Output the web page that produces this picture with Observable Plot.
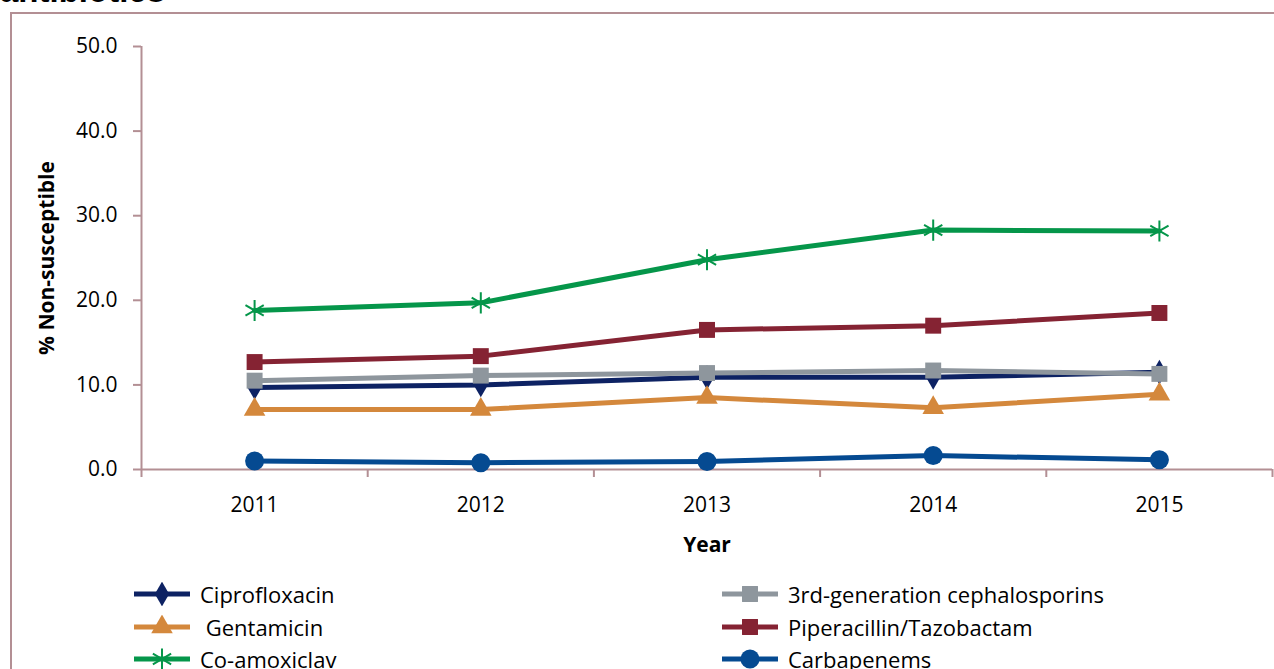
<!DOCTYPE html>
<html>
<head>
<meta charset="utf-8">
<script src="https://cdn.jsdelivr.net/npm/d3@7"></script>
<script src="https://cdn.jsdelivr.net/npm/@observablehq/plot@0.6"></script>
<style>
  html, body { margin: 0; padding: 0; background: #fff; overflow: hidden; }
  body { position: relative; width: 1274px; height: 669px; font-family: "Open Sans", sans-serif; }
  #title { position: absolute; left: 0; top: -26px; font: bold 33px/33px "Liberation Sans", Arial, sans-serif; white-space: nowrap; }
  #frame { position: absolute; left: 10px; top: 12px; width: 1300px; height: 700px; border: 2px solid #b38f94; box-sizing: border-box; }
  #chart { position: absolute; left: 0; top: 0; }
  .leg { position: absolute; height: 24px; display: flex; align-items: center; font-size: 22px; white-space: pre; color: #000; }
  .leg svg { display: block; margin-right: 8px; }
</style>
</head>
<body>
<div id="title">antibiotics</div>
<div id="frame"></div>
<div id="chart"></div>
<div id="legend"></div>
<script>
// ---- data ----
const years = [2011, 2012, 2013, 2014, 2015];
const seriesNames = ["Ciprofloxacin", "3rd-generation cephalosporins", "Gentamicin", "Piperacillin/Tazobactam", "Co-amoxiclav", "Carbapenems"];
const ciprofloxacin = [9.7, 10.0, 10.9, 10.9, 11.5];
const cephalosporins3rd = [10.5, 11.1, 11.4, 11.7, 11.3];
const gentamicin = [7.1, 7.1, 8.5, 7.3, 8.9];
const piperacillinTazobactam = [12.7, 13.4, 16.5, 17.0, 18.5];
const coAmoxiclav = [18.8, 19.7, 24.8, 28.3, 28.2];
const carbapenems = [1.0, 0.8, 0.95, 1.65, 1.15];
const yTicks = [0, 10, 20, 30, 40, 50];
const seriesColors = ["#0d2263", "#8e969d", "#d4883c", "#852333", "#05964a", "#054a91"];
const seriesSymbols = ["diamond", "square", "triangle", "square", "asterisk", "circle"];
const seriesRadius = [7.5, 9, 8, 9, 10, 9.5];
const legendLabels = ["Ciprofloxacin", "3rd-generation cephalosporins", " Gentamicin", "Piperacillin/Tazobactam", "Co-amoxiclav", "Carbapenems"];

const seriesValues = [ciprofloxacin, cephalosporins3rd, gentamicin, piperacillinTazobactam, coAmoxiclav, carbapenems];
const rows = [];
seriesNames.forEach((s, i) => years.forEach((yr, j) => rows.push({series: s, year: yr, value: seriesValues[i][j]})));

const axisColor = "#b38f94";
const boundaries = [years[0] - 0.5, ...years.map(y => y + 0.5)];

const marks = [
  Plot.ruleY([0], {stroke: axisColor, strokeWidth: 2}),
  Plot.ruleX([boundaries[0]], {stroke: axisColor, strokeWidth: 2}),
  Plot.axisY({ticks: yTicks, tickFormat: d => d.toFixed(1), tickSize: 8, tickPadding: 16, stroke: axisColor, strokeWidth: 2, strokeOpacity: 1, label: null, fontSize: 21}),
  Plot.axisX({ticks: boundaries, tickFormat: () => "", tickSize: 8, stroke: axisColor, strokeWidth: 2, strokeOpacity: 1, label: null}),
  Plot.axisX({ticks: years, tickFormat: d => String(d), tickSize: 0, tickPadding: 28, label: null, fontSize: 21}),
  Plot.text(["% Non-susceptible"], {frameAnchor: "left", dx: -94, rotate: -90, textAnchor: "middle", lineAnchor: "middle", fontWeight: "bold", fontSize: 21}),
  Plot.text(["Year"], {frameAnchor: "bottom", dy: 76, textAnchor: "middle", lineAnchor: "middle", fontWeight: "bold", fontSize: 21})
];

seriesNames.forEach((s, i) => {
  const d = rows.filter(r => r.series === s);
  marks.push(Plot.line(d, {x: "year", y: "value", stroke: seriesColors[i], strokeWidth: 5}));
  if (seriesSymbols[i] === "asterisk") {
    marks.push(Plot.dot(d, {x: "year", y: "value", symbol: "asterisk", r: seriesRadius[i], stroke: seriesColors[i], strokeWidth: 2, fill: "none"}));
  } else {
    marks.push(Plot.dot(d, {x: "year", y: "value", symbol: seriesSymbols[i], r: seriesRadius[i], fill: seriesColors[i], stroke: "none"}));
  }
});

const chart = Plot.plot({
  width: 1274,
  height: 560,
  marginLeft: 141,
  marginRight: 2,
  marginTop: 46,
  marginBottom: 91,
  x: {type: "linear", domain: [boundaries[0], boundaries[boundaries.length - 1]]},
  y: {domain: [0, 50]},
  style: {fontFamily: "'Open Sans', sans-serif", fontSize: "21px", color: "#000", background: "transparent", overflow: "visible"},
  marks
});
document.getElementById("chart").appendChild(chart);

// ---- legend ----
const symMap = {diamond: d3.symbolDiamond, square: d3.symbolSquare, triangle: d3.symbolTriangle, asterisk: d3.symbolAsterisk, circle: d3.symbolCircle};
const legendCols = [134, 722];
const legendRows = [594, 627, 659];
const leg = document.getElementById("legend");
seriesNames.forEach((s, i) => {
  const col = i % 2, row = Math.floor(i / 2);
  const div = document.createElement("div");
  div.className = "leg";
  div.style.left = legendCols[col] + "px";
  div.style.top = (legendRows[row] - 12) + "px";
  const svg = d3.create("svg").attr("width", 58).attr("height", 24);
  svg.append("line").attr("x1", 0).attr("x2", 56).attr("y1", 12).attr("y2", 12)
    .attr("stroke", seriesColors[i]).attr("stroke-width", 5);
  const area = Math.PI * seriesRadius[i] * seriesRadius[i];
  const p = svg.append("path").attr("transform", "translate(28,12)")
    .attr("d", d3.symbol(symMap[seriesSymbols[i]], area)());
  if (seriesSymbols[i] === "asterisk") p.attr("fill", "none").attr("stroke", seriesColors[i]).attr("stroke-width", 2);
  else p.attr("fill", seriesColors[i]);
  div.appendChild(svg.node());
  const span = document.createElement("span");
  span.textContent = legendLabels[i];
  div.appendChild(span);
  leg.appendChild(div);
});
</script>
</body>
</html>
